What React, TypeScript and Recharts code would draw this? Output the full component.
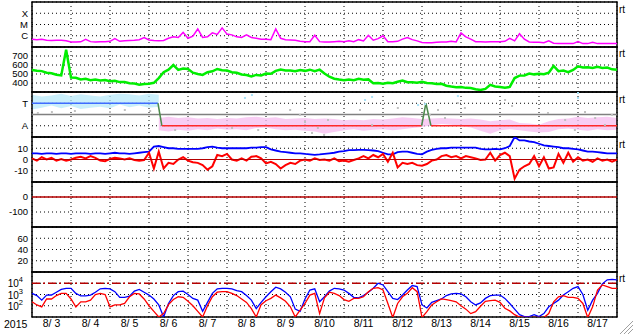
import React from "react";
import {
  ComposedChart, Line, Area, Scatter, XAxis, YAxis, CartesianGrid, ReferenceLine, ReferenceArea,
} from "recharts";

// 3-hourly samples from 8/3 00UT to 8/18 00UT, one line per day (121 points)
const xrayFlux = [ // units of 1e-7 W/m2
  4.8, 4.5, 4.8, 3.9, 3.8, 4.0, 3.9, 3.6,
  2.8, 2.8, 2.9, 4.8, 3.0, 2.8, 3.0, 2.9,
  3.2, 5.5, 3.2, 3.6, 3.8, 4.0, 4.5, 7,
  4.2, 3.8, 3.6, 3.8, 6, 8, 7, 20,
  6, 9, 40, 7, 8, 18, 13, 50,
  14, 12, 8, 7, 12, 7, 6, 5,
  5, 4.5, 40, 6, 4.5, 4.2, 4.0, 3.2,
  3.0, 3.0, 11, 3.0, 2.8, 2.8, 3.0, 3.2,
  3.0, 3.5, 3.0, 4.5, 3.5, 11, 4.0, 5.5,
  10, 3.0, 3.0, 3.2, 5, 7, 4.5, 3.5,
  2.5, 2.4, 2.4, 2.6, 2.8, 2.8, 3.2, 2.8,
  18, 8, 5, 3, 3, 2.8, 3, 3,
  3, 3.2, 6, 3.5, 15, 5, 2.8, 2.6,
  2.6, 2.4, 3.5, 2.2, 2, 2, 2, 2,
  3, 2, 2, 2.6, 2, 2, 2, 2,
  2,
];

const windSpeed = [ // km/s
  545, 535, 532, 515, 508, 492, 484, 770,
  460, 458, 440, 446, 432, 438, 428, 432,
  420, 424, 410, 412, 398, 394, 382, 390,
  392, 402, 455, 520, 548, 600, 545, 560,
  555, 515, 500, 490, 520, 530, 556, 542,
  538, 520, 514, 494, 488, 474, 490, 484,
  505, 502, 535, 550, 538, 540, 530, 545,
  535, 548, 530, 548, 505, 470, 448, 438,
  430, 438, 432, 448, 436, 440, 398, 400,
  392, 402, 398, 414, 428, 408, 408, 402,
  414, 400, 398, 390, 392, 370, 360, 352,
  356, 346, 344, 330, 322, 334, 380, 362,
  355, 348, 356, 455, 482, 484, 505, 496,
  504, 498, 515, 590, 532, 538, 520, 545,
  585, 572, 575, 566, 580, 568, 572, 552,
  546,
];

const bTotal = [ // nT
  5.5, 5.5, 5.0, 5.5, 5.5, 5.0, 5.5, 5.5,
  5.0, 5.5, 5.5, 5.5, 5.0, 5.5, 5.5, 5.0,
  5.5, 6.0, 5.5, 5.5, 5.0, 5.5, 6.0, 6.5,
  7, 11.5, 12, 11, 10, 10, 9.5, 9.5,
  9.5, 9.5, 9.5, 10, 11, 11.5, 10.5, 10,
  10, 10, 10, 10, 10, 10.5, 10.5, 11,
  11, 9, 8, 7, 6.5, 6, 5.5, 5.5,
  5, 4.6, 4.2, 4.5, 5, 5.5, 6, 7,
  7.5, 8.4, 8.4, 8.5, 8.5, 8.4, 8, 7.5,
  6, 4.5, 4.5, 6.5, 7, 7, 6, 5,
  4.6, 7, 8.5, 9.5, 10, 10, 10.5, 10.5,
  10.5, 10.5, 10.5, 10.5, 9.5, 9, 9, 9.5,
  9, 10, 12, 20, 17, 17, 16, 15.5,
  14, 12.5, 12, 11.5, 11, 10, 10, 9.5,
  9, 8, 7, 7, 6.5, 6, 5.5, 5.5,
  5.5,
];

const bzGsm = [ // nT
  1, -1, 2, 0, 1.5, -1, 0.5, -1,
  0, 1.5, 2.5, 1, 3, 1.5, -1, -1.5,
  0.5, 1.5, 1, 0, 1, -0.5, -1, -0.5,
  6, -8, 7, -8, -3, -4, 0, 2,
  -1, -2.5, -3, -5, -9, -6, 4, 3,
  5, 0, -1, 1, -1, 2.5, 3, 1,
  -3.5, -2, -4, -8, -5, -3, -4, -1,
  0, -1, 1, -0.5, 0, -1, 1, -1.5,
  -1, -2, -0.5, 1, 3, 1, 4, 2,
  5, -2, 6, -7, -3, -4, -3, -5,
  -5.5, -4, -1, 0, 3, 4, 2, 3,
  1, 3, 2, 1, -0.5, 0, 6, -1,
  4, 6, 3, -17, -9, -6, -4, 3,
  -6, 2, -8, -7, 5, -3, 6, -2,
  2, -1, 0, -2, 1, -1, 0, -2,
  0,
];

const electronHigh = [ // blue trace
  1260, 800, 316, 890, 900, 1600, 2800, 3550,
  3500, 1260, 740, 740, 890, 1600, 3200, 3550,
  3200, 1780, 560, 560, 700, 2000, 2800, 1600,
  890, 400, 118, 10, 160, 800, 1780, 2000,
  1000, 450, 316, 32, 200, 1260, 3160, 3550,
  3550, 3160, 2240, 1780, 800, 316, 56, 200,
  630, 1780, 4470, 3160, 1600, 630, 50, 32,
  400, 2500, 3160, 224, 630, 2000, 3550, 3160,
  2500, 1260, 560, 500, 800, 1600, 3550, 10000,
  7080, 1780, 447, 355, 890, 2500, 6300, 5000,
  118, 63, 200, 280, 400, 800, 1120, 1260,
  1120, 630, 224, 118, 180, 450, 800, 890,
  890, 450, 160, 50, 16, 11, 11, 16,
  11, 20, 80, 160, 316, 890, 1780, 3550,
  5000, 1000, 40, 316, 1260, 8900, 20000, 22400,
  20000,
];

const electronLow = [ // red trace
  224, 118, 80, 400, 400, 800, 1260, 1260,
  400, 80, 224, 224, 316, 1000, 1260, 1000,
  80, 118, 118, 160, 630, 1260, 1120, 400,
  100, 32, 10, 20, 126, 355, 630, 560,
  250, 100, 32, 10, 100, 630, 1600, 1780,
  1780, 1260, 800, 400, 200, 56, 10, 126,
  280, 450, 890, 500, 250, 80, 10, 40,
  160, 890, 1260, 20, 500, 1600, 1260, 800,
  355, 250, 450, 450, 630, 1780, 3550, 4000,
  2500, 160, 9, 160, 630, 1260, 4000, 1780,
  9, 30, 118, 224, 400, 355, 280, 224,
  100, 50, 20, 30, 90, 250, 280, 316,
  200, 60, 35, 16, 10, 9, 9, 9,
  9, 9, 20, 224, 630, 800, 560, 560,
  450, 160, 9, 80, 2500, 7080, 5000, 3550,
  3550,
];

// IMF sector: 6-hourly spread of the angle cloud (T = +1, A = -1)
const towardHi = [1.75, 1.6, 1.7, 1.85, 1.65, 1.8, 1.7, 1.6, 1.75, 1.85, 1.8, 1.7, 1.85, 1.75];
const towardLo = [0.45, 0.6, 0.8, 0.55, 0.75, 0.5, 0.6, 0.7, 0.55, 0.9, 0.65, 0.8, 0.6, 0.7];
const awayHi = [
  -0.3, -0.2, -0.3, -0.25, -0.35, -0.3, -0.4, -0.3,
  -0.35, -0.25, -0.2, -0.3, -0.25, -0.4, -0.35, -0.3,
  -0.4, -0.35, -0.4, -0.5, -0.45, -0.5, -0.4, -0.45,
  -0.35, -0.25, -0.3, -0.4, -0.35, -0.3, -0.35, -0.4,
  -0.35, -0.45, -0.6, -0.5, -0.45, -0.75, -0.8, -0.9,
  -0.6, -0.4, -0.35, -0.2, -0.3, -0.25, -0.2, -0.3,
];
const awayLo = [
  -1.4, -1.5, -1.35, -1.45, -1.3, -1.4, -1.25, -1.35,
  -1.3, -1.4, -1.2, -1.15, -1.3, -1.4, -1.35, -1.45,
  -1.5, -1.7, -1.55, -1.4, -1.3, -1.45, -1.35, -1.3,
  -1.4, -1.3, -1.2, -1.1, -0.95, -0.85, -0.9, -1.05,
  -1.15, -1.45, -1.7, -1.4, -1.3, -1.4, -1.5, -1.6,
  -1.55, -1.3, -1.25, -1.35, -1.45, -1.3, -1.4, -1.35,
];
const grayPts = [
  { t: 0.15, v: 0.13 }, { t: 0.51, v: 0.22 }, { t: 1.1, v: 0.31 }, { t: 2.0, v: 0.22 },
  { t: 2.38, v: 0.4 }, { t: 3.03, v: 0.31 }, { t: 3.67, v: -1.38 }, { t: 5.13, v: -1.2 },
  { t: 5.8, v: -1.38 }, { t: 6.62, v: 0.4 }, { t: 6.87, v: -0.04 }, { t: 7.0, v: -0.67 },
  { t: 7.18, v: -1.64 }, { t: 7.33, v: -1.2 }, { t: 7.49, v: -1.82 }, { t: 7.59, v: -0.49 },
  { t: 8.41, v: 0.4 }, { t: 8.72, v: -0.93 }, { t: 9.38, v: 0.58 }, { t: 10.2, v: -0.04 },
  { t: 10.41, v: 0.4 }, { t: 10.59, v: -0.31 }, { t: 10.92, v: 1.02 }, { t: 11.1, v: 0.58 },
  { t: 12.13, v: 1.29 }, { t: 12.31, v: 0.76 }, { t: 13.23, v: 0.13 }, { t: 13.67, v: -0.49 },
  { t: 13.92, v: -1.38 }, { t: 14.18, v: 0.22 }, { t: 14.44, v: -0.31 }, { t: 14.69, v: -0.93 },
  { t: 14.87, v: -0.04 },
];
const cyanPts = [
  { t: 5.46, v: 1.47 }, { t: 5.64, v: 1.73 }, { t: 8.54, v: 1.29 }, { t: 8.72, v: 1.56 },
  { t: 9.9, v: 0.84 }, { t: 10.08, v: 0.93 }, { t: 10.92, v: 1.64 }, { t: 14.0, v: 1.91 },
  { t: 14.0, v: 1.47 },
];
const sectorTimes = [0, 3.23, 3.33, 9.99, 10.1, 10.23, 15];
const sectorState = [1, 1, -1, -1, 1, -1, -1];

// axes
const dayTicks = [1, 2, 3, 4, 5, 6, 7, 8, 9, 10, 11, 12, 13, 14];
const dayLabelTicks = [0.5, 1.5, 2.5, 3.5, 4.5, 5.5, 6.5, 7.5, 8.5, 9.5, 10.5, 11.5, 12.5, 13.5, 14.5];
const dayLabels = ["8/ 3", "8/ 4", "8/ 5", "8/ 6", "8/ 7", "8/ 8", "8/ 9", "8/10", "8/11", "8/12", "8/13", "8/14", "8/15", "8/16", "8/17"];
const xrayTicks = [10, 100, 1000];
const xrayLabels = ["C", "M", "X"];
const sectorTicks = [-1, 1];
const sectorLabels = ["A", "T"];

const rows = xrayFlux.map((x, i) => ({
  t: i / 8,
  xray: x,
  speed: windSpeed[i],
  bt: bTotal[i],
  bz: bzGsm[i],
  eHi: electronHigh[i],
  eLo: electronLow[i],
}));
const towardBand = towardHi.map((hi, k) => ({ t: k / 4, lo: towardLo[k], hi }));
const awayBand = awayHi.map((hi, k) => ({ t: (k + 13) / 4, lo: awayLo[k], hi }));
const sectorSegs = sectorTimes.slice(1).map((t, j) => ({
  pts: [{ t: sectorTimes[j], v: sectorState[j] }, { t, v: sectorState[j + 1] }],
  color: sectorState[j] !== sectorState[j + 1] ? "#4d8a4d" : sectorState[j] > 0 ? "#3f6cff" : "#ff2a2a",
}));

const W = 633;
const PH = 45;
const PAD = 5;
const FONT = "'Liberation Sans', Arial, Helvetica, sans-serif";
const M = { top: PAD, right: 16, bottom: PAD, left: 0 };
const tickStyle = { fill: "#000", fontSize: 9.5 };
const DARKRED = "#b40000";

const Slot = ({ top, children }: { top: number; children: React.ReactNode }) => (
  <div style={{ position: "absolute", left: 0, top: top - PAD }}>{children}</div>
);

const frame = (y1: number, y2: number) => (
  <ReferenceArea x1={0} x2={15} y1={y1} y2={y2} fill="none" fillOpacity={0} stroke="#000" strokeWidth={1.5} ifOverflow="visible" />
);

const gridX = <XAxis dataKey="t" type="number" domain={[0, 15]} ticks={dayTicks} height={0} hide />;

const yProps = { width: 32, tickSize: 0, tickMargin: 4, axisLine: false, tick: tickStyle, allowDataOverflow: true, interval: 0 as const };

const PowerTick = (p: any) => (
  <text x={p.x - 5} y={p.y} dy={4} textAnchor="end" fontSize={10} fill="#000">
    10<tspan dy={-5} fontSize={7.5}>{Math.round(Math.log10(p.payload.value))}</tspan>
  </text>
);

const square = (color: string) => (p: any) => <rect x={p.cx - 1} y={p.cy - 1} width={2} height={2} fill={color} />;

const rtLabel = (y: number) => (
  <span style={{ position: "absolute", left: 619, top: y - 7, fontSize: 10, lineHeight: "12px" }}>rt</span>
);

export default function App() {
  const h = PH + 2 * PAD;
  return (
    <div style={{ position: "absolute", left: 0, top: 0, width: W, height: 334, background: "#fff", fontFamily: FONT, overflow: "hidden" }}>
      <Slot top={2}>
        <ComposedChart width={W} height={h} data={rows} margin={M}>
          <CartesianGrid stroke="#000" strokeDasharray="1 3" />
          {gridX}
          <YAxis {...yProps} scale="log" domain={[1, 10000]} ticks={xrayTicks}
            tickFormatter={(v: number) => xrayLabels[xrayTicks.indexOf(v)]} />
          <Line dataKey="xray" stroke="#ff00ff" strokeWidth={1.5} dot={false} isAnimationActive={false} />
          {frame(1, 10000)}
        </ComposedChart>
      </Slot>

      <Slot top={47}>
        <ComposedChart width={W} height={h} data={rows} margin={M}>
          <CartesianGrid stroke="#000" strokeDasharray="1 3" />
          {gridX}
          <YAxis {...yProps} domain={[300, 800]} ticks={[400, 500, 600, 700]} />
          <Line dataKey="speed" stroke="#00ee00" strokeWidth={2.5} dot={false} isAnimationActive={false} />
          {frame(300, 800)}
        </ComposedChart>
      </Slot>

      <Slot top={92}>
        <ComposedChart width={W} height={h} margin={M}>
          <CartesianGrid stroke="#000" strokeDasharray="1 3" />
          {gridX}
          <YAxis {...yProps} domain={[-2, 2]} ticks={sectorTicks}
            tickFormatter={(v: number) => sectorLabels[sectorTicks.indexOf(v)]} />
          <Area data={towardBand} dataKey={(d: any) => [d.lo, d.hi]} stroke="none" fill="#b4e8fa" fillOpacity={0.7} isAnimationActive={false} />
          <Area data={awayBand} dataKey={(d: any) => [d.lo, d.hi]} stroke="none" fill="#f6bcef" fillOpacity={0.75} isAnimationActive={false} />
          <Scatter data={grayPts} dataKey="v" shape={square("#c0c0c0")} isAnimationActive={false} />
          <Scatter data={cyanPts} dataKey="v" shape={square("#a8e0f6")} isAnimationActive={false} />
          <ReferenceLine y={0} stroke="#808080" strokeWidth={1.5} />
          {sectorSegs.map((s, j) => (
            <Line key={j} data={s.pts} dataKey="v" stroke={s.color} strokeWidth={1.5} dot={false} isAnimationActive={false} />
          ))}
          {frame(-2, 2)}
        </ComposedChart>
      </Slot>

      <Slot top={137}>
        <ComposedChart width={W} height={h} data={rows} margin={M}>
          <CartesianGrid stroke="#000" strokeDasharray="1 3" />
          {gridX}
          <YAxis {...yProps} domain={[-20, 20]} ticks={[-10, 0, 10]} />
          <Line dataKey="bt" stroke="#0000ff" strokeWidth={1.8} dot={false} isAnimationActive={false} />
          <Line dataKey="bz" stroke="#ff0000" strokeWidth={2} dot={false} isAnimationActive={false} />
          <ReferenceLine y={0} stroke={DARKRED} strokeWidth={1.2} />
          {frame(-20, 20)}
        </ComposedChart>
      </Slot>

      <Slot top={182}>
        <ComposedChart width={W} height={h} data={rows} margin={M}>
          <CartesianGrid stroke="#000" strokeDasharray="1 3" />
          {gridX}
          <YAxis {...yProps} domain={[-200, 100]} ticks={[-100, 0]} />
          <ReferenceLine y={0} stroke={DARKRED} strokeWidth={1.5} />
          {frame(-200, 100)}
        </ComposedChart>
      </Slot>

      <Slot top={227}>
        <ComposedChart width={W} height={h} data={rows} margin={M}>
          <CartesianGrid stroke="#000" strokeDasharray="1 3" />
          {gridX}
          <YAxis {...yProps} domain={[0, 80]} ticks={[20, 40, 60]} />
          {frame(0, 80)}
        </ComposedChart>
      </Slot>

      <Slot top={272}>
        <ComposedChart width={W} height={PH + PAD + 22} data={rows} margin={{ ...M, bottom: 2 }}>
          <XAxis xAxisId="lab" dataKey="t" type="number" domain={[0, 15]} ticks={dayLabelTicks}
            tickFormatter={(v: number) => dayLabels[Math.floor(v)]} height={20} tickSize={0} tickMargin={3}
            axisLine={false} tick={{ fill: "#000", fontSize: 10.5 }} interval={0} />
          {gridX}
          <CartesianGrid stroke="#000" strokeDasharray="1 3" />
          <YAxis {...yProps} scale="log" domain={[10, 100000]} ticks={[100, 1000, 10000]} tick={<PowerTick />} />
          <ReferenceLine y={10000} stroke={DARKRED} strokeWidth={1.5} strokeDasharray="8 3 2 3" />
          <Line dataKey="eHi" stroke="#0000ff" strokeWidth={1.3} dot={false} isAnimationActive={false} />
          <Line dataKey="eLo" stroke="#ff0000" strokeWidth={1.3} dot={false} isAnimationActive={false} />
          {frame(10, 100000)}
        </ComposedChart>
      </Slot>

      <span style={{ position: "absolute", left: 4, top: 318, fontSize: 10.5, lineHeight: "13px" }}>2015</span>
      {rtLabel(11)}
      {rtLabel(55)}
      {rtLabel(101)}
      {rtLabel(146)}
      {rtLabel(280)}
      <svg style={{ position: "absolute", left: 619, top: 320 }} width={14} height={14}>
        <line x1={1} y1={14} x2={14} y2={1} stroke="#a0a0a0" />
        <line x1={5} y1={14} x2={14} y2={5} stroke="#a0a0a0" />
        <line x1={9} y1={14} x2={14} y2={9} stroke="#a0a0a0" />
      </svg>
    </div>
  );
}
